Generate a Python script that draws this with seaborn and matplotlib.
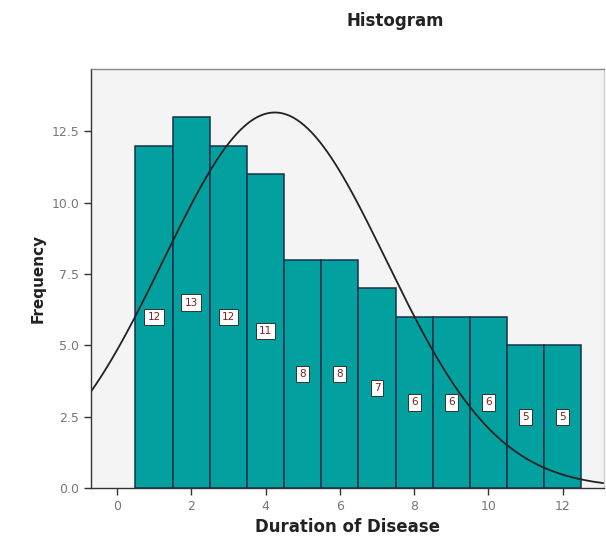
import numpy as np
import pandas as pd
import matplotlib
matplotlib.use("Agg")
import matplotlib.pyplot as plt
import seaborn as sns

# values
durations = [1, 2, 3, 4, 5, 6, 7, 8, 9, 10, 11, 12]
counts = [12, 13, 12, 11, 8, 8, 7, 6, 6, 6, 5, 5]
x_ticks = [0, 2, 4, 6, 8, 10, 12]
y_ticks = [0.0, 2.5, 5.0, 7.5, 10.0, 12.5]

# normal curve parameters (estimated from the drawn curve)
curve_mean = 4.25
curve_sd = 3.0

sns.set_theme(style="white")
plt.rcParams['font.family'] = ['DejaVu Sans']

df = pd.DataFrame({'duration': durations, 'count': counts})

fig = plt.figure(figsize=(6.06, 5.41), dpi=100)
ax = fig.add_axes([0.150, 0.098, 0.846, 0.775])
ax.set_facecolor('#f4f4f4')

sns.histplot(data=df, x='duration', weights='count', discrete=True,
             color='#03a0a0', alpha=1.0,
             edgecolor='#17324a', linewidth=1.1, ax=ax)

# normal curve scaled to the total count
n_total = sum(counts)
xs = np.linspace(-0.7, 13.1, 400)
ys = n_total / (curve_sd * np.sqrt(2 * np.pi)) * np.exp(-0.5 * ((xs - curve_mean) / curve_sd) ** 2)
ax.plot(xs, ys, color='#222222', linewidth=1.3)

# value labels at half bar height
for d, c in zip(durations, counts):
    ax.text(d, c / 2, str(c), ha='center', va='center', fontsize=7.5,
            color='#7a2020',
            bbox=dict(boxstyle='square,pad=0.3', facecolor='white',
                      edgecolor='#333333', linewidth=0.7))

ax.set_xlim(-0.7, 13.1)
ax.set_ylim(0, 14.7)
ax.set_xticks(x_ticks)
ax.set_yticks(y_ticks)
ax.set_yticklabels([f'{v:.1f}' for v in y_ticks])
ax.tick_params(axis='both', colors='#333333', labelcolor='#777777',
               labelsize=9, length=5, width=1, direction='out',
               bottom=True, left=True)

for side in ['top', 'right', 'left', 'bottom']:
    ax.spines[side].set_visible(True)
    ax.spines[side].set_linewidth(1.0)
ax.spines['top'].set_color('#888888')
ax.spines['right'].set_color('#cccccc')
ax.spines['left'].set_color('#333333')
ax.spines['bottom'].set_color('#333333')

ax.set_xlabel('Duration of Disease', fontsize=12, fontweight='bold', color='#222222')
ax.set_ylabel('Frequency', fontsize=11, fontweight='bold', color='#222222')
fig.text(0.652, 0.962, 'Histogram', ha='center', va='center',
         fontsize=12, fontweight='bold', color='#222222')

fig.savefig('out.png', dpi=100)
